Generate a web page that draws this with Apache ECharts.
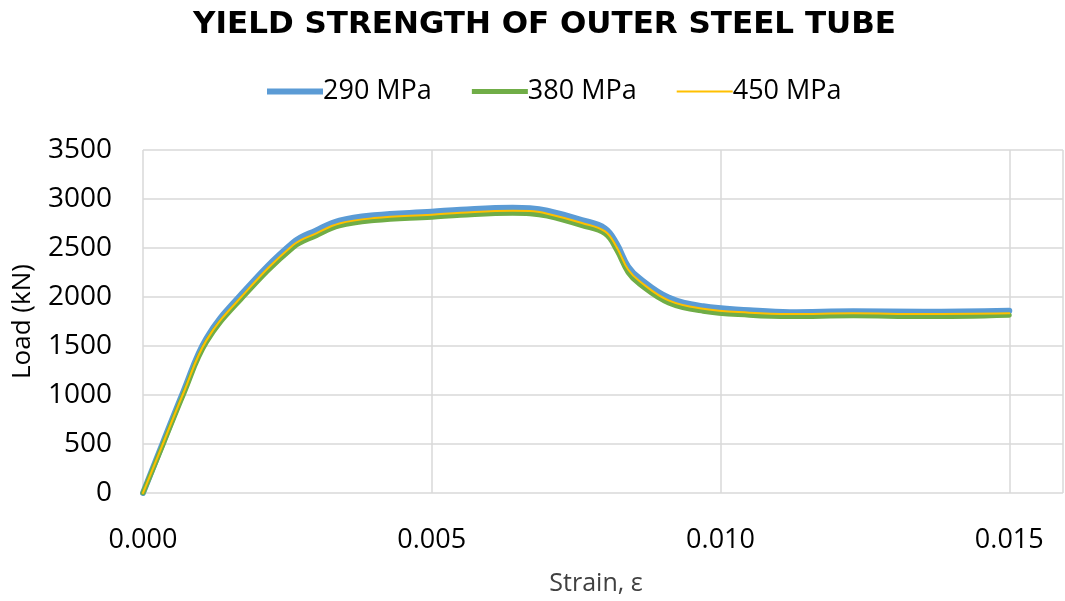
<!DOCTYPE html>
<html>
<head>
<meta charset="utf-8">
<script src="https://cdn.jsdelivr.net/npm/echarts@6/dist/echarts.min.js"></script>
<style>html,body{margin:0;padding:0;background:#fff}#c{width:1065px;height:601px}</style>
</head>
<body>
<div id="c"></div>
<script>
const titleText = 'YIELD STRENGTH OF OUTER STEEL TUBE';
const seriesNames = ['290 MPa', '380 MPa', '450 MPa'];
const strain = [0, 0.00035, 0.0007, 0.0011, 0.0017, 0.0026, 0.003, 0.0034, 0.004, 0.005, 0.0055, 0.0064, 0.0067, 0.007, 0.0076, 0.008, 0.0082, 0.0084, 0.0086, 0.0091, 0.0097, 0.0105, 0.0112, 0.0123, 0.0135, 0.015];
const load290 = [0, 520, 1035, 1580, 2025, 2555, 2680, 2780, 2835, 2870, 2890, 2910, 2905, 2880, 2785, 2700, 2545, 2310, 2190, 1995, 1905, 1865, 1845, 1855, 1850, 1860];
const load380 = [0, 500, 1005, 1540, 1980, 2505, 2625, 2725, 2780, 2815, 2835, 2855, 2850, 2825, 2728, 2645, 2480, 2250, 2130, 1940, 1855, 1815, 1800, 1808, 1800, 1815];
const load450 = [0, 510, 1020, 1560, 2000, 2530, 2650, 2750, 2805, 2840, 2860, 2880, 2877, 2850, 2755, 2670, 2510, 2280, 2160, 1965, 1880, 1840, 1826, 1833, 1826, 1833];
const yTicks = [0, 500, 1000, 1500, 2000, 2500, 3000, 3500];
const xTicks = [0, 0.005, 0.010, 0.015];

const pair = (ys) => strain.map((x, i) => [x, ys[i]]);
const colors = ['#5b9bd5', '#70ad47', '#ffc000'];
const widths = [6, 5, 2];
const loads = [load290, load380, load450];
// legend line icons of different thickness inside a fixed 56x20 box
const legendIcon = (w) => {
  const a = 10 - w / 2, b = 10 + w / 2;
  return 'path://M0,0L0.01,0M0,20L0.01,20M0,' + a + 'L56,' + a + 'L56,' + b + 'L0,' + b + 'Z';
};

const chart = echarts.init(document.getElementById('c'), null, {renderer: 'canvas'});
chart.setOption({
  animation: false,
  backgroundColor: '#ffffff',
  title: {
    text: titleText,
    left: 188,
    top: 4,
    textStyle: {fontFamily: 'DejaVu Sans', fontWeight: 'bold', fontSize: 31, color: '#000'}
  },
  legend: {
    top: 73,
    left: 262,
    itemWidth: 56,
    itemHeight: 20,
    itemGap: 40,
    textStyle: {fontFamily: 'Open Sans', fontSize: 27, color: '#000', padding: [0, 0, 0, -5]},
    data: seriesNames.map((n, i) => ({name: n, icon: legendIcon(widths[i]), itemStyle: {color: colors[i]}}))
  },
  grid: {left: 143, right: 2, top: 150, bottom: 108, containLabel: false, outerBoundsMode: 'none'},
  xAxis: {
    type: 'value',
    min: 0,
    max: 0.01593,
    interval: 0.005,
    name: 'Strain, ε',
    nameLocation: 'middle',
    nameGap: 78,
    nameTextStyle: {fontFamily: 'Open Sans', fontSize: 25, color: '#404040', padding: [0, 14, 0, 0]},
    axisLine: {show: false},
    axisTick: {show: false},
    axisLabel: {
      margin: 34, fontFamily: 'Open Sans', fontSize: 27, color: '#000',
      showMaxLabel: false,
      formatter: (v) => xTicks.some(t => Math.abs(t - v) < 1e-9) ? v.toFixed(3) : ''
    },
    splitLine: {show: true, lineStyle: {color: '#d9d9d9', width: 1.5}}
  },
  yAxis: {
    type: 'value',
    min: 0,
    max: 3500,
    interval: 500,
    name: 'Load (kN)',
    nameLocation: 'middle',
    nameGap: 107,
    nameTextStyle: {fontFamily: 'Open Sans', fontSize: 26, color: '#000'},
    axisLine: {show: false},
    axisTick: {show: false},
    axisLabel: {margin: 31, fontFamily: 'Open Sans', fontSize: 28, color: '#000',
      formatter: (v) => yTicks.includes(v) ? String(v) : ''},
    splitLine: {show: true, lineStyle: {color: '#d9d9d9', width: 1.5}}
  },
  series: seriesNames.map((n, i) => ({
    name: n,
    type: 'line',
    data: pair(loads[i]),
    smooth: 0.4,
    showSymbol: false,
    symbol: 'none',
    lineStyle: {color: colors[i], width: widths[i], cap: 'round', join: 'round'},
    itemStyle: {color: colors[i]},
    z: 2 + i
  }))
});
</script>
</body>
</html>
